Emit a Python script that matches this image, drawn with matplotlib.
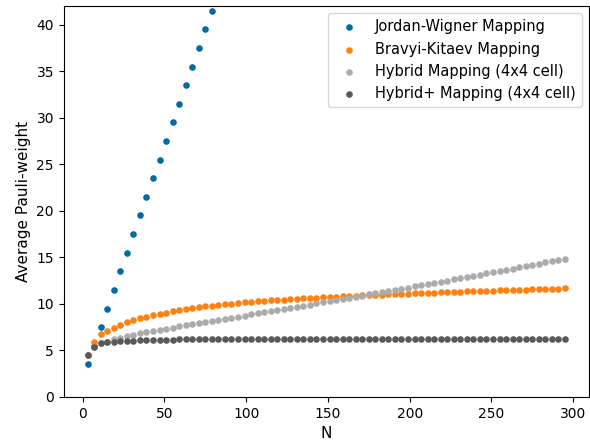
import matplotlib
matplotlib.use("Agg")
import matplotlib.pyplot as plt

# system size N
n_sites = list(range(3, 296, 4))

jordan_wigner = [3.5, 5.5, 7.5, 9.5, 11.5, 13.5, 15.5, 17.5, 19.5, 21.5,
                 23.5, 25.5, 27.5, 29.5, 31.5, 33.5, 35.5, 37.5, 39.5, 41.5,
                 43.5, 45.5, 47.5, 49.5, 51.5, 53.5, 55.5, 57.5, 59.5, 61.5,
                 63.5, 65.5, 67.5, 69.5, 71.5, 73.5, 75.5, 77.5, 79.5, 81.5,
                 83.5, 85.5, 87.5, 89.5, 91.5, 93.5, 95.5, 97.5, 99.5, 101.5,
                 103.5, 105.5, 107.5, 109.5, 111.5, 113.5, 115.5, 117.5, 119.5, 121.5,
                 123.5, 125.5, 127.5, 129.5, 131.5, 133.5, 135.5, 137.5, 139.5, 141.5,
                 143.5, 145.5, 147.5, 149.5]

bravyi_kitaev = [4.5, 5.85, 6.74, 7.1, 7.45, 7.77, 8.02, 8.24, 8.45, 8.63,
                 8.77, 8.91, 9.06, 9.2, 9.3, 9.4, 9.52, 9.63, 9.73, 9.8,
                 9.88, 9.95, 10.02, 10.09, 10.16, 10.2, 10.27, 10.3, 10.37, 10.41,
                 10.46, 10.51, 10.55, 10.58, 10.62, 10.66, 10.7, 10.73, 10.77, 10.8,
                 10.84, 10.87, 10.9, 10.93, 10.96, 10.99, 11.02, 11.05, 11.08, 11.1,
                 11.13, 11.16, 11.18, 11.21, 11.23, 11.26, 11.28, 11.31, 11.33, 11.36,
                 11.38, 11.4, 11.43, 11.45, 11.47, 11.49, 11.52, 11.54, 11.56, 11.58,
                 11.6, 11.62, 11.64, 11.66]

hybrid = [4.5, 5.4, 5.75, 5.95, 6.17, 6.35, 6.52, 6.7, 6.84, 6.99,
          7.1, 7.24, 7.34, 7.45, 7.59, 7.68, 7.8, 7.92, 8.03, 8.15,
          8.27, 8.39, 8.51, 8.62, 8.74, 8.86, 8.98, 9.1, 9.21, 9.33,
          9.45, 9.57, 9.69, 9.8, 9.92, 10.04, 10.16, 10.29, 10.41, 10.53,
          10.65, 10.77, 10.89, 11.02, 11.14, 11.26, 11.38, 11.5, 11.63, 11.75,
          11.87, 11.99, 12.11, 12.24, 12.37, 12.5, 12.63, 12.76, 12.89, 13.02,
          13.15, 13.28, 13.41, 13.54, 13.67, 13.8, 13.93, 14.06, 14.19, 14.32,
          14.45, 14.58, 14.71, 14.84]

hybrid_plus = [4.46, 5.38, 5.74, 5.85, 5.92, 5.98, 6.03, 6.06, 6.09, 6.11,
               6.13, 6.14, 6.15, 6.16, 6.17, 6.18, 6.18, 6.18, 6.18, 6.18,
               6.18, 6.18, 6.18, 6.18, 6.18, 6.18, 6.18, 6.18, 6.18, 6.18,
               6.18, 6.18, 6.18, 6.18, 6.18, 6.19, 6.19, 6.19, 6.19, 6.19,
               6.19, 6.19, 6.19, 6.19, 6.19, 6.19, 6.19, 6.19, 6.19, 6.19,
               6.19, 6.19, 6.19, 6.19, 6.19, 6.19, 6.19, 6.19, 6.19, 6.19,
               6.19, 6.19, 6.19, 6.19, 6.19, 6.19, 6.19, 6.19, 6.19, 6.19,
               6.19, 6.19, 6.19, 6.19]

fig = plt.figure(figsize=(5.9, 4.4), dpi=100)
axes = fig.add_axes([0.108, 0.098, 0.89, 0.888])

dot = 14
axes.scatter(n_sites, jordan_wigner, s=dot, color="#006BA4", label="Jordan-Wigner Mapping")
axes.scatter(n_sites, bravyi_kitaev, s=dot, color="#FF800E", label="Bravyi-Kitaev Mapping")
axes.scatter(n_sites, hybrid, s=dot, color="#ABABAB", label="Hybrid Mapping (4x4 cell)")
axes.scatter(n_sites, hybrid_plus, s=dot, color="#595959", label="Hybrid+ Mapping (4x4 cell)")

axes.set_ylim(0, 42)
axes.set_xlabel("N", fontsize=11)
axes.set_ylabel("Average Pauli-weight", fontsize=11)
axes.legend(loc="upper right", fontsize=10.5)

fig.savefig("out.png", dpi=100)
